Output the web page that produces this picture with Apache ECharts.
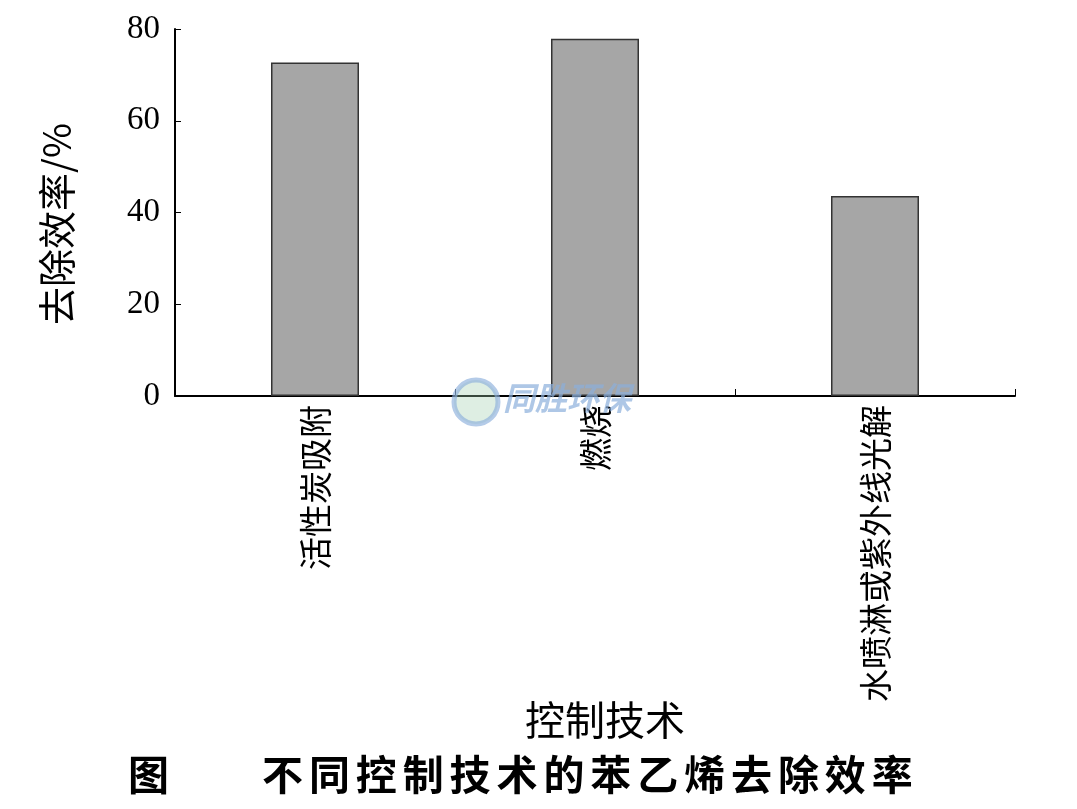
<!DOCTYPE html>
<html>
<head>
<meta charset="utf-8">
<script src="https://cdn.jsdelivr.net/npm/echarts@6/dist/echarts.min.js"></script>
<style>
html,body{margin:0;padding:0;background:#fff;}
#main{width:1077px;height:809px;}
</style>
</head>
<body>
<div id="main"></div>
<script>
const categories = ['活性炭吸附', '燃烧', '水喷淋或紫外线光解'];
const removalEfficiency = [72.7, 77.9, 43.6];
const yTicks = [0, 20, 40, 60, 80];
const yAxisName = '去除效率/%';
const xAxisName = '控制技术';
const figureLabel = '图';
const figureTitle = '不同控制技术的苯乙烯去除效率';

const chart = echarts.init(document.getElementById('main'));
const cjk = '"Noto Sans CJK SC", sans-serif';
const serif = '"Liberation Serif", "DejaVu Serif", serif';
const titleFont = 'bold 41px "Noto Sans CJK SC", sans-serif';

const titleGraphics = figureTitle.split('').map((ch, i) => ({
  type: 'text',
  x: 262 + i * 46.9,
  y: 754,
  style: { text: ch, font: titleFont, fill: '#000' }
}));

chart.setOption({
  backgroundColor: '#ffffff',
  animation: false,
  grid: { left: 175, right: 62, top: 29, bottom: 413, containLabel: false },
  xAxis: {
    type: 'category',
    data: categories,
    axisLine: { show: true, lineStyle: { color: '#000', width: 2 } },
    axisTick: { show: true, inside: true, length: 7, lineStyle: { color: '#000', width: 1 } },
    axisLabel: {
      rotate: 90,
      margin: 9,
      fontFamily: cjk,
      fontSize: 33,
      color: '#000'
    }
  },
  yAxis: {
    type: 'value',
    min: yTicks[0],
    max: yTicks[yTicks.length - 1],
    interval: 20,
    splitLine: { show: false },
    axisLine: { show: true, lineStyle: { color: '#000', width: 2 } },
    axisTick: { show: true, inside: true, length: 6, lineStyle: { color: '#000', width: 1 } },
    axisLabel: {
      margin: 15,
      fontFamily: serif,
      fontSize: 33,
      color: '#000',
      formatter: v => yTicks.includes(v) ? String(v) : ''
    }
  },
  series: [{
    type: 'bar',
    data: removalEfficiency,
    barWidth: 88,
    itemStyle: { color: '#a6a6a6', borderColor: '#333333', borderWidth: 1.5 },
    silent: true
  }],
  graphic: [
    {
      type: 'text',
      x: 57, y: 224,
      rotation: Math.PI / 2,
      style: {
        text: yAxisName,
        font: '38px "Noto Sans CJK SC", sans-serif',
        fill: '#000',
        align: 'center',
        verticalAlign: 'middle'
      }
    },
    {
      type: 'text',
      x: 605, y: 720,
      style: {
        text: xAxisName,
        font: '40px "Noto Sans CJK SC", sans-serif',
        fill: '#000',
        align: 'center',
        verticalAlign: 'middle'
      }
    },
    {
      type: 'text',
      x: 128, y: 754,
      style: { text: figureLabel, font: titleFont, fill: '#000' }
    },
    ...titleGraphics,
    {
      type: 'circle',
      shape: { cx: 476, cy: 402, r: 22 },
      z: 100,
      style: { fill: 'rgba(160,205,175,0.35)', stroke: 'rgba(140,175,220,0.65)', lineWidth: 5 }
    },
    {
      type: 'text',
      x: 503, y: 382,
      z: 100,
      style: {
        text: '同胜环保',
        font: 'italic bold 32px "Noto Sans CJK SC", sans-serif',
        fill: 'rgba(140,175,220,0.7)'
      }
    }
  ]
});
</script>
</body>
</html>
